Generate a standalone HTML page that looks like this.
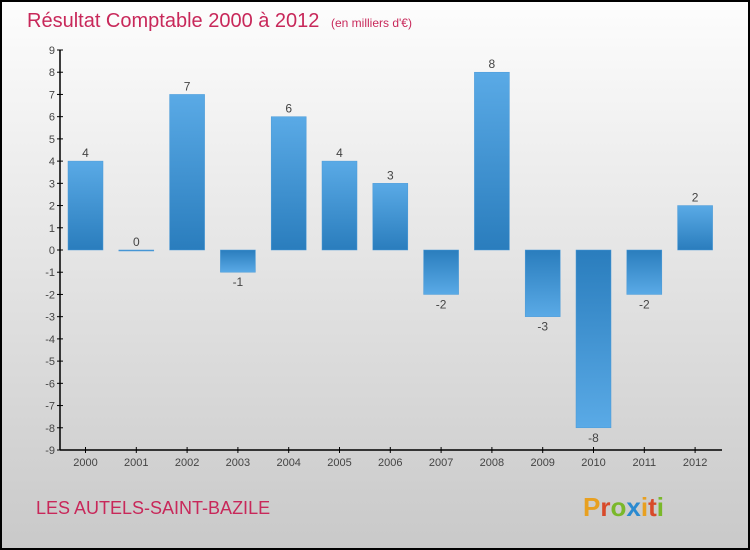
<!DOCTYPE html>
<html><head><meta charset="utf-8">
<style>
html,body{margin:0;padding:0;width:750px;height:550px;overflow:hidden}
svg{display:block;font-family:"Liberation Sans",sans-serif}
</style></head>
<body>
<svg id="chart" width="750" height="550" viewBox="0 0 750 550">
<defs>
<linearGradient id="bg" x1="0" y1="0" x2="0" y2="1"><stop offset="0" stop-color="#fdfdfd"/><stop offset="1" stop-color="#c9c9c9"/></linearGradient>
<linearGradient id="bpos" x1="0" y1="0" x2="0" y2="1"><stop offset="0" stop-color="#5aaae6"/><stop offset="1" stop-color="#2a7dbd"/></linearGradient>
<linearGradient id="bneg" x1="0" y1="0" x2="0" y2="1"><stop offset="0" stop-color="#2a7dbd"/><stop offset="1" stop-color="#5aaae6"/></linearGradient>
</defs>
<rect x="1" y="1" width="748" height="548" fill="url(#bg)" stroke="#000" stroke-width="2"/>
<text x="27" y="27" font-size="20" fill="#c8285a">Résultat Comptable 2000 à 2012 <tspan font-size="12" dx="6">(en milliers d'€)</tspan></text>
<text x="36" y="514" font-size="18" fill="#c8285a">LES AUTELS-SAINT-BAZILE</text>
<text x="583" y="516" font-size="26" font-weight="bold"><tspan fill="#e8a020">P</tspan><tspan fill="#d84a2a">r</tspan><tspan fill="#7ab82a">o</tspan><tspan fill="#2a8ad0">x</tspan><tspan fill="#e8a020">i</tspan><tspan fill="#d84a2a">t</tspan><tspan fill="#7ab82a">i</tspan></text>
<g id="plot"></g>
</svg>
<script>
const categories=["2000","2001","2002","2003","2004","2005","2006","2007","2008","2009","2010","2011","2012"];
const values=[4,0,7,-1,6,4,3,-2,8,-3,-8,-2,2];
const yTicks=[9,8,7,6,5,4,3,2,1,0,-1,-2,-3,-4,-5,-6,-7,-8,-9];
const NS="http://www.w3.org/2000/svg";
const g=document.getElementById('plot');
const x0=60,x1=722,yTop=50,yBot=450,vmin=-9,vmax=9;
const y=v=>yBot-(v-vmin)/(vmax-vmin)*(yBot-yTop);
const step=50.8;
const xc=i=>85.5+i*step;
function el(t,a){const e=document.createElementNS(NS,t);for(const k in a)e.setAttribute(k,a[k]);g.appendChild(e);return e;}
let ax=el('line',{x1:x0,y1:yTop,x2:x0,y2:yBot,stroke:'#000','stroke-width':1.5});


let bx=el('line',{x1:x0,y1:yBot,x2:x1,y2:yBot,stroke:'#000','stroke-width':1.5});


yTicks.forEach(v=>{
 const l=el('line',{x1:x0-3,y1:y(v),x2:x0+3,y2:y(v),stroke:'#000'});
 
 
 const t=el('text',{x:x0-5,y:y(v)+4,'font-size':11,fill:'#444','text-anchor':'end'});
 t.textContent=v;
 
 
});
categories.forEach((c,i)=>{
 const v=values[i];
 const l=el('line',{x1:xc(i),y1:yBot-3,x2:xc(i),y2:yBot+3,stroke:'#000'});
 
 
 const t=el('text',{x:xc(i),y:yBot+16,'font-size':11,fill:'#444','text-anchor':'middle'});
 t.textContent=c;
 
 
 const top=Math.min(y(v),y(0)),h=Math.max(Math.abs(y(v)-y(0)),1);
 const r=el('rect',{x:xc(i)-17.5,y:top,width:35,height:h,fill:v>=0?'url(#bpos)':'url(#bneg)',stroke:'#4a9ad8','stroke-width':0.5});
 
 
 const lb=el('text',{x:xc(i),y:v>=0?y(v)-4:y(v)+14,'font-size':12,fill:'#444','text-anchor':'middle'});
 lb.textContent=v;
 
 
});
</script>
</body></html>
